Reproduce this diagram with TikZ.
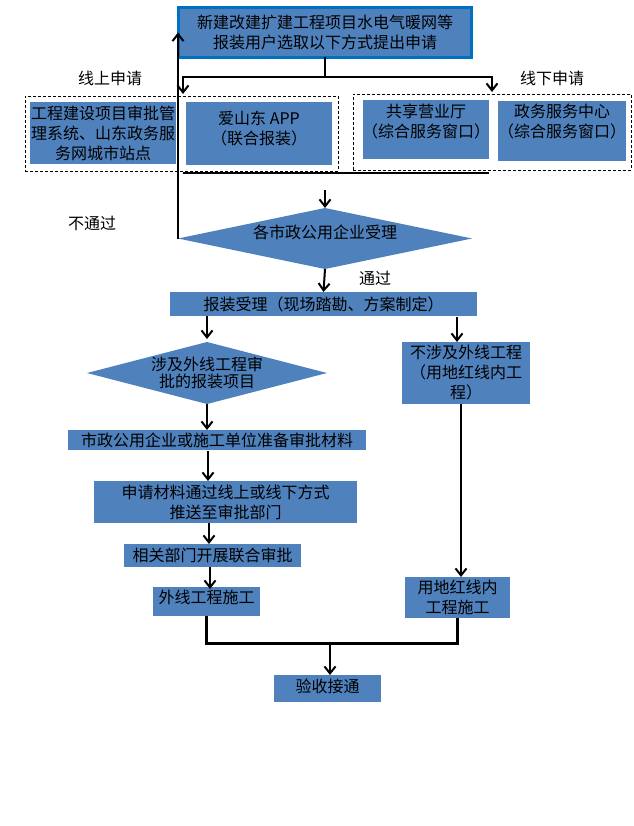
\documentclass[tikz,border=0pt]{standalone}
\usepackage{fontspec}
\setmainfont{Noto Sans CJK SC}
\usetikzlibrary{shapes.geometric,arrows.meta}
\definecolor{boxblue}{HTML}{4F81BD}
\definecolor{edgeblue}{HTML}{0070C0}
\begin{document}
\begin{tikzpicture}[x=1pt,y=-1pt,
  every node/.style={font=\fontsize{16}{20}\selectfont, inner sep=0pt, outer sep=0pt, align=center, text=black},
  box/.style={rectangle, fill=boxblue, draw=none},
  topbox/.style={rectangle, fill=boxblue, draw=edgeblue, line width=3pt},
  dia/.style={diamond, fill=boxblue, draw=none, inner sep=0pt},
  grp/.style={rectangle, draw=black, line width=0.9pt, dash pattern=on 3pt off 2pt},
  ln/.style={line width=2pt},
  heavyln/.style={line width=3pt},
  arr/.style={line width=2pt, -{Straight Barb[length=7pt,width=11pt,line width=2pt]}},
  plain/.style={font=\fontsize{16}{20}\selectfont}
]
\useasboundingbox (0,0) rectangle (633,826);

% top
\node[topbox, minimum width=293pt, minimum height=50pt] (top) at (325,32.5)
  {新建改建扩建工程项目水电气暖网等\\报装用户选取以下方式提出申请};

% labels
\node[plain] (onlineLbl) at (110,78) {线上申请};
\node[plain] (offlineLbl) at (552,78) {线下申请};

% groups
\node[grp, minimum width=313pt, minimum height=75pt] (online) at (181.5,133.5) {};
\node[grp, minimum width=278pt, minimum height=76pt] (offline) at (492,132) {};

\node[box, minimum width=146pt, minimum height=62pt] (sys) at (103,133)
  {工程建设项目审批管\\理系统、山东政务服\\务网城市站点};
\node[box, minimum width=146pt, minimum height=63pt,
  label={[yshift=5pt]center:爱山东 APP\\（联合报装）}] (app) at (259,133.5) {};
\node[box, minimum width=126pt, minimum height=59pt,
  label={[yshift=8.5pt]center:共享营业厅\\（综合服务窗口）}] (hall) at (426,129.5) {};
\node[box, minimum width=128pt, minimum height=60pt,
  label={[yshift=9pt]center:政务服务中心\\（综合服务窗口）}] (gov) at (562,131) {};

% accept diamond
\node[dia, minimum width=294pt, minimum height=61pt,
  label={[yshift=6.5pt]center:各市政公用企业受理}] (accept) at (325,238.5) {};
\node[plain] (failLbl) at (92,223) {不通过};
\node[plain] (passLbl) at (375,278) {通过};

\node[box, minimum width=307pt, minimum height=24pt] (survey) at (323.5,304)
  {报装受理（现场踏勘、方案制定）};

\node[dia, minimum width=240pt, minimum height=62pt,
  label={[align=center,font=\fontsize{16}{17}\selectfont]center:涉及外线工程审\\批的报装项目}] (involve) at (207,373) {};
\node[box, minimum width=128pt, minimum height=62pt] (notinv) at (466,373)
  {不涉及外线工程\\（用地红线内工\\程）};

\node[box, minimum width=298pt, minimum height=20pt] (prepare) at (217,440)
  {市政公用企业或施工单位准备审批材料};
\node[box, minimum width=263pt, minimum height=42pt] (submit) at (225.5,502)
  {申请材料通过线上或线下方式\\推送至审批部门};
\node[box, minimum width=177pt, minimum height=23pt] (joint) at (212.5,555.5)
  {相关部门开展联合审批};
\node[box, minimum width=107pt, minimum height=29pt,
  label={[yshift=4.5pt]center:外线工程施工}] (outer) at (206.5,601.5) {};
\node[box, minimum width=105pt, minimum height=41pt] (inner) at (457.5,597.5)
  {用地红线内\\工程施工};
\node[box, minimum width=107pt, minimum height=27pt,
  label={[yshift=2.5pt]center:验收接通}] (done) at (327.5,688.5) {};

% connectors
\coordinate (sp) at (325,77);
\coordinate (sl) at (183,77);
\coordinate (sr) at (492,77);
\coordinate (tl) at (183,94);
\coordinate (tr) at (492,92);
\draw[ln] (top.south) -- (sp);
\draw[arr] (sp) -- (sl) -- (tl);
\draw[arr] (sp) -- (sr) -- (tr);

\coordinate (ml) at (183,173);
\coordinate (mr) at (489,173);
\draw[line width=2.5pt] (ml) -- (mr);

\coordinate (ma) at (325,190);
\draw[arr] (ma) -- (accept.north);
\draw[arr] (accept.west) -- (accept.west |- top.west);
\draw[arr] (accept.south) -- (survey.north);

\draw[arr] (involve.north |- survey.south) -- ([yshift=3pt]involve.north);
\coordinate (rx) at (457,317);
\draw[arr] (rx) -- (rx |- notinv.north);

\draw[arr] (involve.south) -- (involve.south |- prepare.north);
\coordinate (a1) at (208,451);
\draw[arr] (a1) -- (a1 |- submit.north);
\coordinate (a2) at (209,523);
\draw[arr] (a2) -- (a2 |- joint.north);
\coordinate (a3) at (210,567);
\draw[arr] (a3) -- ([yshift=-2pt]a3 |- outer.north);

\coordinate (a4) at (461,404);
\draw[arr] (a4) -- (a4 |- inner.north);

\coordinate (mg) at (330,643);
\draw[heavyln] (outer.south) |- (mg) -| (inner.south);
\draw[arr] (mg) -- (mg |- done.north);
\end{tikzpicture}
\end{document}
